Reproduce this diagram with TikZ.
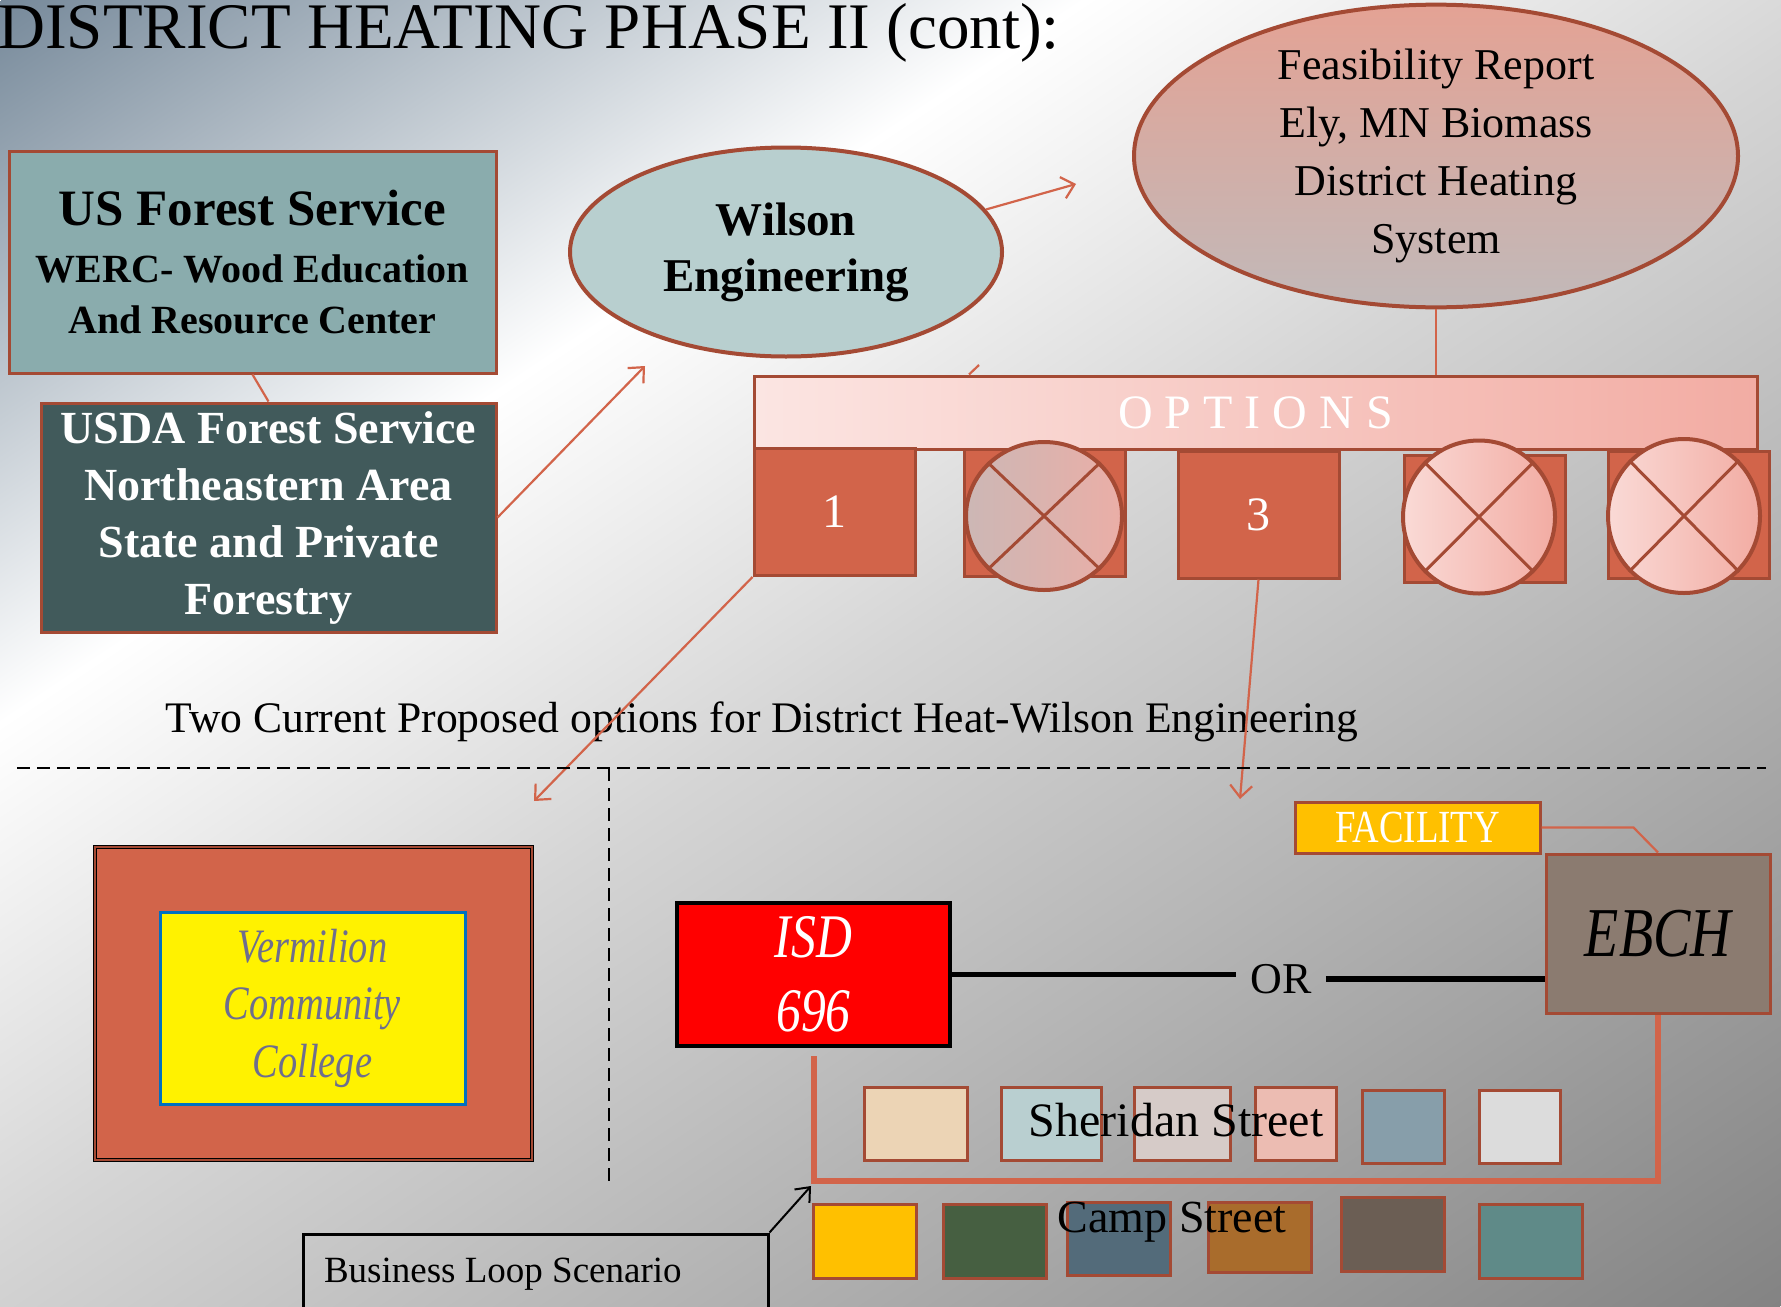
\documentclass[tikz,border=0pt]{standalone}
\usepackage{fontspec}
\setmainfont{Liberation Serif}
\newfontfamily\slimfont[FakeStretch=0.8]{Liberation Serif}
\usetikzlibrary{shapes.geometric,arrows.meta}

\definecolor{rust}{HTML}{A44A34}
\definecolor{coral}{HTML}{D2644A}
\definecolor{slatebg}{HTML}{76899A}
\definecolor{palebg}{HTML}{D5D5D5}
\definecolor{darkbg}{HTML}{838383}
\definecolor{wercteal}{HTML}{8AACAD}
\definecolor{usdaslate}{HTML}{415A5B}
\definecolor{wilsonblue}{HTML}{B8CFCF}
\definecolor{feastop}{HTML}{E4A294}
\definecolor{feasbottom}{HTML}{C1B9B9}
\definecolor{pinklight}{HTML}{FADAD6}
\definecolor{pinkdeep}{HTML}{F2ACA3}
\definecolor{dustyrose}{HTML}{CCB7B5}
\definecolor{taupe}{HTML}{8B7B70}
\definecolor{amber}{HTML}{FFC000}
\definecolor{collegeblue}{HTML}{0070C0}
\definecolor{collegetext}{HTML}{6E6E8E}

\pgfdeclarehorizontalshading{backdrop}{300bp}{color(0bp)=(slatebg); color(29bp)=(white); color(50bp)=(palebg); color(100bp)=(darkbg)}

\tikzset{
  orgbox/.style={draw=rust, line width=1.5pt, align=center, inner sep=0pt},
  orgoval/.style={ellipse, draw=rust, line width=2pt, align=center, inner sep=0pt},
  optbox/.style={draw=rust, line width=1.5pt, fill=coral, text=white, minimum width=80.5pt, minimum height=63.5pt, font=\fontsize{24}{28}\selectfont},
  crossoval/.style={ellipse, draw=rust, line width=2pt, inner sep=0pt, left color=pinklight, right color=pinkdeep},
  link/.style={coral, line width=1.1pt},
  linkarrow/.style={coral, line width=1.1pt, -{Straight Barb[length=6pt,width=11pt]}},
  lot/.style={draw=rust, line width=1.5pt},
  divider/.style={black, line width=1.2pt, dash pattern=on 6.5pt off 3.5pt},
  loopline/.style={coral, line width=3pt},
  orline/.style={black, line width=2.8pt}
}

\begin{document}
\begin{tikzpicture}[x=0.5pt,y=-0.5pt]
\useasboundingbox (0,0) rectangle (1781,1306);
\begin{scope}
  \clip (0,0) rectangle (1781,1306);
  \pgftransformshift{\pgfpointxy{890.5}{653}}
  \pgftransformrotate{-56.31}
  \pgftransformscale{10.334}
  \pgflowlevelsynccm
  \pgfuseshading{backdrop}
\end{scope}

\node[anchor=base west, inner sep=0pt, font=\fontsize{32.5}{38}\selectfont] (title) at (-2,48) {DISTRICT HEATING PHASE II (cont):};

\node[orgbox, fill=wercteal, minimum width=243.5pt, minimum height=111pt, font=\fontsize{20}{25.5}\selectfont\bfseries] (werc) at (252.5,262) {{\fontsize{25.5}{29}\selectfont US Forest Service}\\[3pt]WERC- Wood Education\\And Resource Center};
\node[orgbox, fill=usdaslate, text=white, minimum width=227.5pt, minimum height=114.5pt, font=\fontsize{23}{28.5}\selectfont\bfseries] (usda) at (268.5,517.5) {USDA Forest Service\\Northeastern Area\\State and Private\\Forestry};
\draw[link] (werc.south) -- (usda.north);

\node[orgoval, fill=wilsonblue, minimum width=216pt, minimum height=104.5pt, font=\fontsize{23.5}{28}\selectfont\bfseries] (wilson) at (786,252) {Wilson\\Engineering};
\node[orgoval, top color=feastop, bottom color=feasbottom, minimum width=302pt, minimum height=146.5pt, font=\fontsize{22}{29}\selectfont] (feas) at (1436,156) {Feasibility Report\\Ely, MN Biomass\\District Heating\\System};

\coordinate (wilsontip) at (645,366);
\coordinate (feastip) at (1076,184);
\draw[linkarrow] (usda.east) -- (wilsontip);
\draw[linkarrow] (wilson.12) -- (feastip);

\node[orgbox, left color=pinklight!70!white, right color=pinkdeep, minimum width=501.5pt, minimum height=36.5pt, text=white, font=\fontsize{24}{28}\selectfont] (options) at (1255.5,412.5) {O P T I O N S};
\draw[link] (feas.south) -- (feas.south |- options.north);
\coordinate (stub) at (979,365);
\draw[link] (stub) -- ([xshift=-5pt]stub |- options.north);

\node[optbox] (opt1) at (834.5,512) {1};
\node[optbox] (opt2) at (1045,513) {};
\node[optbox] (opt3) at (1258.5,514.5) {3};
\node[optbox] (opt4) at (1484.5,518.5) {};
\node[optbox] (opt5) at (1689,515) {};
\node[crossoval, left color=dustyrose, right color=pinkdeep!80!dustyrose, minimum width=78pt, minimum height=74pt] (cross2) at (1044,516) {};
\node[crossoval, minimum width=76pt, minimum height=76.5pt] (cross4) at (1479,517) {};
\node[crossoval, minimum width=76pt, minimum height=77pt] (cross5) at (1684,516) {};
\draw[rust, line width=1.5pt] (cross2.north west) -- (cross2.south east) (cross2.north east) -- (cross2.south west);
\draw[rust, line width=1.5pt] (cross4.north west) -- (cross4.south east) (cross4.north east) -- (cross4.south west);
\draw[rust, line width=1.5pt] (cross5.north west) -- (cross5.south east) (cross5.north east) -- (cross5.south west);

\node[anchor=base west, inner sep=0pt, font=\fontsize{21.8}{26}\selectfont] (caption) at (165,732) {Two Current Proposed options for District Heat-Wilson Engineering};

\coordinate (collegetip) at (534,801);
\coordinate (facilitytip) at (1240,799);
\draw[linkarrow] (opt1.south west) -- (collegetip);
\draw[linkarrow] (opt3.south) -- (facilitytip);

\draw[divider] (17,768) -- (1766,768);
\draw[divider] (609,768) -- (609,1181);

\node[draw=black, line width=0.5pt, double=rust, double distance=0.8pt, fill=coral, minimum width=218.5pt, minimum height=156.5pt] (collegeframe) at (313.5,1003.5) {};
\node[draw=collegeblue, line width=1.5pt, fill=yellow, minimum width=152.5pt, minimum height=96pt, text=collegetext, align=center, font=\slimfont\itshape\fontsize{24}{28.75}\selectfont] (college) at (312.5,1008) {Vermilion\\Community\\College};

\node[draw=black, line width=2pt, fill=red, text=white, minimum width=136.5pt, minimum height=71.5pt, align=center, font=\slimfont\itshape\fontsize{31}{37}\selectfont] (isd) at (813.5,974.5) {ISD\\696};
\node[draw=rust, line width=1.5pt, fill=taupe, minimum width=112pt, minimum height=79.5pt, font=\slimfont\itshape\fontsize{35}{40}\selectfont] (ebch) at (1658,933.5) {EBCH};
\node[draw=rust, line width=1.5pt, fill=amber, text=white, minimum width=122.5pt, minimum height=25.5pt, inner sep=0pt, font=\slimfont\fontsize{23}{26}\selectfont] (facility) at (1417.5,827.5) {FACILITY};
\draw[link] (facility.east) -- ++(92,0) -- (ebch.north);

\node[inner sep=7pt, font=\fontsize{22}{26}\selectfont] (ornode) at (1281,979) {OR};
\draw[orline] (isd.east) -- (isd.east -| ornode.west);
\draw[orline] (ornode.east) -- (ornode.east -| ebch.west);

\coordinate (loopend) at (1658,1181);
\draw[loopline] ([yshift=-4pt]isd.south) |- (loopend) -- (ebch.south);

\draw[lot, fill={rgb,255:red,236;green,212;blue,181}] (864,1087) rectangle (967,1160);
\draw[lot, fill={rgb,255:red,185;green,207;blue,208}] (1001,1087) rectangle (1101,1160);
\draw[lot, fill={rgb,255:red,214;green,203;blue,200}] (1134,1087) rectangle (1230,1160);
\draw[lot, fill={rgb,255:red,236;green,188;blue,178}] (1255,1087) rectangle (1336,1160);
\draw[lot, fill={rgb,255:red,135;green,158;blue,170}] (1362,1090) rectangle (1444,1163);
\draw[lot, fill={rgb,255:red,220;green,220;blue,220}] (1479,1090) rectangle (1560,1163);
\node[font=\fontsize{24}{28}\selectfont] (sheridan) at (1176,1120) {Sheridan Street};

\draw[lot, fill=amber] (813,1204) rectangle (916,1278);
\draw[lot, fill={rgb,255:red,70;green,95;blue,65}] (943,1204) rectangle (1046,1278);
\draw[lot, fill={rgb,255:red,83;green,107;blue,122}] (1067,1202) rectangle (1170,1275);
\draw[lot, fill={rgb,255:red,169;green,108;blue,44}] (1208,1202) rectangle (1311,1272);
\draw[lot, fill={rgb,255:red,107;green,94;blue,84}] (1341,1197) rectangle (1444,1271);
\draw[lot, fill={rgb,255:red,95;green,138;blue,136}] (1479,1204) rectangle (1582,1278);
\node[font=\fontsize{23}{28}\selectfont] (camp) at (1172,1222) {Camp Street};

\node[draw=black, line width=1.5pt, minimum height=40pt, inner xsep=10.5pt, font=\fontsize{18.5}{23}\selectfont] (bizloop) at (535.5,1274) {\makebox[211.5pt][l]{Business Loop Scenario}};
\coordinate (looptip) at (811,1186);
\draw[black, line width=1pt, -{Straight Barb[length=6pt,width=10pt]}] (bizloop.north east) -- (looptip);
\end{tikzpicture}
\end{document}
